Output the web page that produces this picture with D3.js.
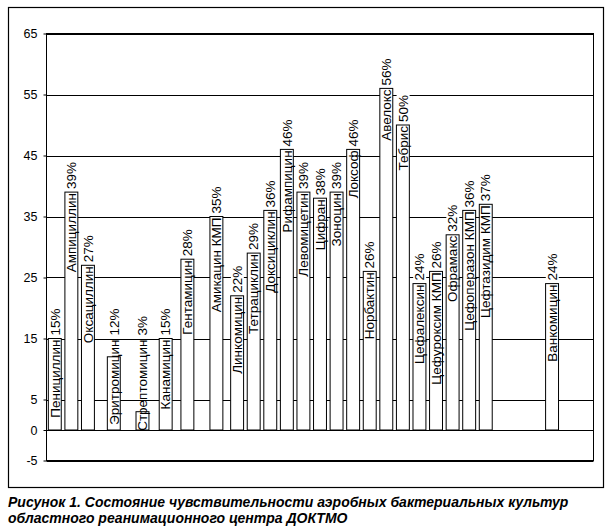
<!DOCTYPE html>
<html>
<head>
<meta charset="utf-8">
<script src="https://cdn.jsdelivr.net/npm/d3@7"></script>
<style>
  body { margin: 0; background: #fff; }
  text { font-family: "Liberation Sans", Arial, sans-serif; fill: #000; }
</style>
</head>
<body>
<div id="chart"></div>
<script>
var width = 610;
var height = 528;

// antibiotics, in the order they stand on the chart
var categories = ["Пенициллин", "Ампициллин", "Оксациллин", "Эритромицин", "Стрептомицин",
    "Канамицин", "Гентамицин", "Амикацин КМП", "Линкомицин", "Тетрациклин", "Доксициклин",
    "Рифампицин", "Левомицетин", "Цифран", "Зоноцин", "Локсоф", "Норбактин", "Авелокс",
    "Тебрис", "Цефалексин", "Цефуроксим КМП", "Офрамакс", "Цефоперазон КМП",
    "Цефтазидим КМП", "Ванкомицин"];
var values = [15, 39, 27, 12, 3, 15, 28, 35, 22, 29, 36, 46, 39, 38, 39, 46, 26, 56, 50,
    24, 26, 32, 36, 37, 24];
// where each bar sits along the category axis (slot number, 33 slots)
var slots = [0, 1, 2, 3.56, 5.29, 6.69, 8, 9.75, 11, 12, 13, 14, 15, 16, 17, 18, 19, 20, 21,
    22, 23, 24, 25, 26, 30];
var slotCount = 33;
var yTicks = [-5, 0, 5, 15, 25, 35, 45, 55, 65];
var caption = ["Рисунок 1. Состояние чувствительности аэробных бактериальных культур",
    "областного реанимационного центра ДОКТМО"];

var data = categories.map(function (c, i) {
    return {name: c, value: values[i], slot: slots[i]};
});

var svg = d3.select("#chart")
    .append("svg")
    .attr("width", width)
    .attr("height", height);

// outer frame
svg.append("rect")
    .attr("x", 8.5)
    .attr("y", 7.5)
    .attr("width", 595)
    .attr("height", 480)
    .attr("fill", "none")
    .attr("stroke", "#000")
    .attr("stroke-width", 1.2);

var xScale = d3.scaleLinear().domain([0, slotCount]).range([46.5, 593.5]);
var yScale = d3.scaleLinear().domain([-5, 65]).range([460.5, 33.5]);

// grid lines
svg.append("g")
    .selectAll("line")
    .data(yTicks)
    .enter()
    .append("line")
    .attr("x1", xScale(0))
    .attr("x2", xScale(slotCount))
    .attr("y1", function (d) { return Math.round(yScale(d)) + 0.5; })
    .attr("y2", function (d) { return Math.round(yScale(d)) + 0.5; })
    .attr("stroke", "#000");

// plot box sides
svg.append("rect")
    .attr("x", xScale(0))
    .attr("y", yScale(65))
    .attr("width", xScale(slotCount) - xScale(0))
    .attr("height", yScale(-5) - yScale(65))
    .attr("fill", "none")
    .attr("stroke", "#000");

var yAxis = d3.axisLeft(yScale)
    .tickValues(yTicks)
    .tickFormat(function (d) { return String(d); })
    .tickSize(3)
    .tickPadding(6);

var axisG = svg.append("g")
    .attr("transform", "translate(" + xScale(0) + ",0)")
    .call(yAxis);
axisG.select(".domain").remove();
axisG.selectAll("line").attr("stroke", "#000");
axisG.selectAll("text")
    .style("font-family", "'Liberation Sans', Arial, sans-serif")
    .style("font-size", "12.5px")
    .attr("fill", "#000");

// bars
svg.append("g")
    .selectAll(".bar")
    .data(data)
    .enter()
    .append("rect")
    .attr("class", "bar")
    .attr("x", function (d) { return xScale(d.slot + 0.11); })
    .attr("width", function (d) { return xScale(d.slot + 0.89) - xScale(d.slot + 0.11); })
    .attr("y", function (d) { return yScale(d.value); })
    .attr("height", function (d) { return yScale(0) - yScale(d.value); })
    .attr("fill", "#fff")
    .attr("stroke", "#000");

// labels: name inside the bar end, value sticking out above
function labelBase(d) {
    return Math.min(yScale(d.value), yScale(15));
}
function center(d) {
    return (xScale(d.slot + 0.11) + xScale(d.slot + 0.89)) / 2;
}

var labels = svg.append("g");

var valueLabels = labels.selectAll(".val")
    .data(data)
    .enter()
    .append("text")
    .attr("class", "val")
    .attr("transform", function (d) {
        return "translate(" + center(d) + "," + (labelBase(d) - 3) + ") rotate(-90)";
    })
    .attr("dy", "0.35em")
    .style("font-size", "13.5px")
    .text(function (d) { return d.value + "%"; });

// white patch behind the value text
valueLabels.each(function (d) {
    var bb = this.getBBox();
    d3.select(this.parentNode).insert("rect", function () { return this.firstChild; })
        .attr("transform", "translate(" + center(d) + "," + (labelBase(d) - 3) + ") rotate(-90)")
        .attr("x", bb.x)
        .attr("y", bb.y + 1)
        .attr("width", bb.width)
        .attr("height", bb.height - 2)
        .attr("fill", "#fff");
});

labels.selectAll(".name")
    .data(data)
    .enter()
    .append("text")
    .attr("class", "name")
    .attr("transform", function (d) {
        return "translate(" + center(d) + "," + (labelBase(d) + 1) + ") rotate(-90)";
    })
    .attr("dy", "0.35em")
    .attr("text-anchor", "end")
    .style("font-size", "13.5px")
    .text(function (d) { return d.name; });

// caption
svg.append("g")
    .selectAll("text")
    .data(caption)
    .enter()
    .append("text")
    .attr("x", 8)
    .attr("y", function (d, i) { return 507 + i * 16; })
    .style("font-size", "14px")
    .style("font-weight", "bold")
    .style("font-style", "italic")
    .text(function (d) { return d; });
</script>
</body>
</html>
